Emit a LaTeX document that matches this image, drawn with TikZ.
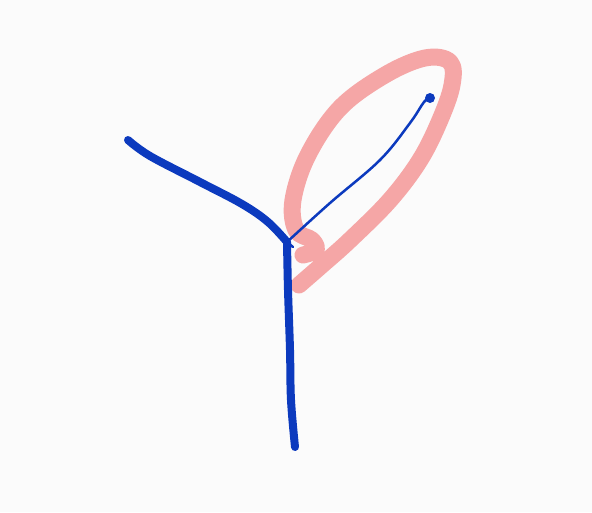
\documentclass[tikz,border=0pt]{standalone}
\definecolor{inkblue}{RGB}{12,58,190}
\definecolor{loopink}{RGB}{245,166,166}
\definecolor{paper}{RGB}{251,251,251}
\begin{document}
\begin{tikzpicture}[x=1pt,y=-1pt,line cap=round,line join=round]
        \fill [paper] (0,0) rectangle (592,512);
        \pgfmathsetmacro{\thickw}{8}
        \coordinate (junction) at (287,242);
        \coordinate (tip) at (430,98);
        \draw [loopink, line width=17pt] plot [smooth, tension=0.6] coordinates {
                (299,285) (322,265) (350,240) (390,200) (420,160) (440,120) (452,85)
                (450,62) (425,58) (385,75) (340,108) (308,155) (293,200) (296,230)
                (312,240) (316,250) (303,255)};
        \draw [inkblue, line width=\thickw pt] plot [smooth, tension=0.6] coordinates {
                (128,140) (150,156) (200,182) (242,204) (268,222) (junction)};
        \draw [inkblue, line width=\thickw pt] plot [smooth, tension=0.6] coordinates {
                (junction) (288,290) (290,350) (291,400) (295,447)};
        \draw [inkblue, line width=2.5pt] (junction) -- (293,247);
        \draw [inkblue, line width=2.5pt] plot [smooth, tension=0.6] coordinates {
                (junction) (330,203) (380,160) (410,123) (424,102) (tip)};
        \fill [inkblue] (tip) circle (5);
    \end{tikzpicture}
\end{document}
